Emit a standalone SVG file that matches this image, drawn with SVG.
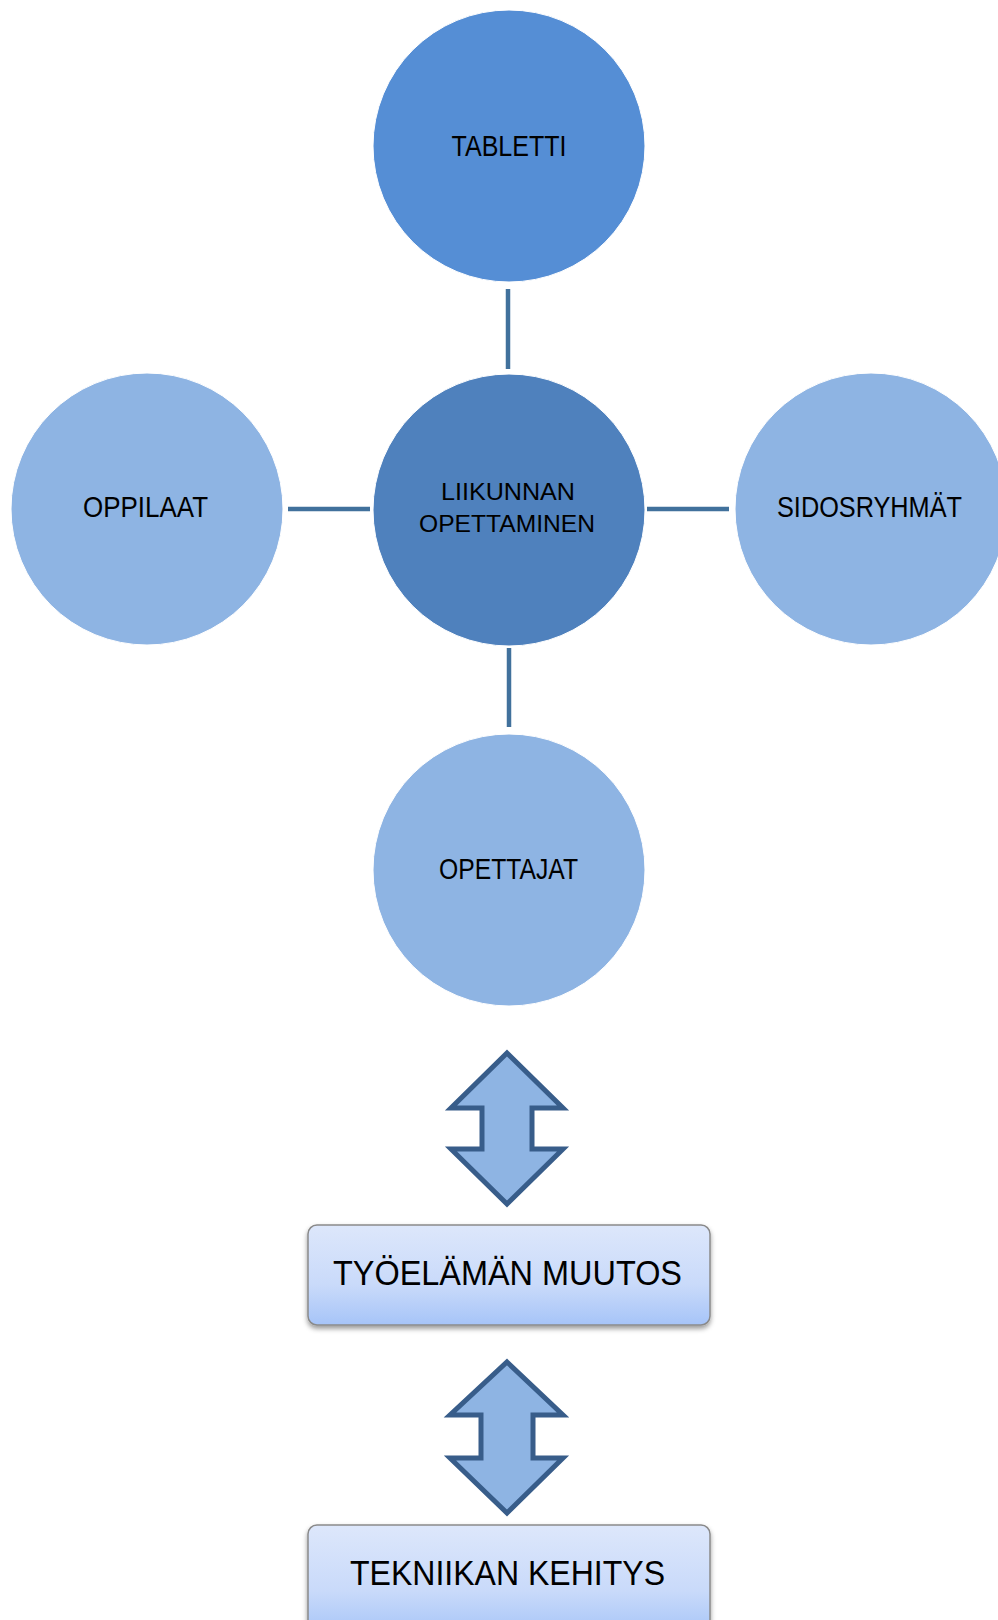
<svg xmlns="http://www.w3.org/2000/svg" width="998" height="1620" viewBox="0 0 998 1620">
<style>
.t{font-family:"Liberation Sans",Arial,sans-serif;fill:#000;text-anchor:middle}
.c{font-size:29px}
.m{font-size:24px}
.b{font-size:35px}
.con{stroke:#41719C;stroke-width:4.5;fill:none}
.arr{fill:#8EB4E3;stroke:#385D8A;stroke-width:5;stroke-linejoin:miter}
.box{fill:url(#g);stroke:#8a8a8a;stroke-width:1.5;filter:url(#sh)}
</style>
<defs>
<linearGradient id="g" x1="0" y1="0" x2="0" y2="1">
<stop offset="0" stop-color="#DDE7FB"/>
<stop offset="0.6" stop-color="#C9DAFA"/>
<stop offset="1" stop-color="#A6C4F8"/>
</linearGradient>
<filter id="sh" x="-10%" y="-20%" width="120%" height="150%">
<feDropShadow dx="0" dy="3" stdDeviation="2.5" flood-color="#000" flood-opacity="0.4"/>
</filter>
</defs>
<g id="connectors">
<line class="con" x1="508" y1="289" x2="508" y2="369"/>
<line class="con" x1="288" y1="509" x2="370" y2="509"/>
<line class="con" x1="647" y1="509" x2="729" y2="509"/>
<line class="con" x1="509" y1="648" x2="509" y2="727"/>
</g>
<g id="tabletti">
<circle cx="509" cy="146" r="136" fill="#558ED5" stroke="#fff" stroke-width="1"/>
<text class="t c" x="509" y="156" textLength="115" lengthAdjust="spacingAndGlyphs">TABLETTI</text>
</g>
<g id="liikunnan">
<circle cx="509" cy="510" r="136" fill="#4F81BD" stroke="#fff" stroke-width="1"/>
<text class="t m" x="508" y="500" textLength="134" lengthAdjust="spacingAndGlyphs">LIIKUNNAN</text>
<text class="t m" x="507" y="532" textLength="176" lengthAdjust="spacingAndGlyphs">OPETTAMINEN</text>
</g>
<g id="oppilaat">
<circle cx="147" cy="509" r="136" fill="#8EB4E3" stroke="#fff" stroke-width="1"/>
<text class="t c" x="145.5" y="517" textLength="125" lengthAdjust="spacingAndGlyphs">OPPILAAT</text>
</g>
<g id="sidosryhmat">
<circle cx="871" cy="509" r="136" fill="#8EB4E3" stroke="#fff" stroke-width="1"/>
<text class="t c" x="869.5" y="517" textLength="185" lengthAdjust="spacingAndGlyphs">SIDOSRYHMÄT</text>
</g>
<g id="opettajat">
<circle cx="509" cy="870" r="136" fill="#8EB4E3" stroke="#fff" stroke-width="1"/>
<text class="t c" x="508.5" y="879" textLength="139" lengthAdjust="spacingAndGlyphs">OPETTAJAT</text>
</g>
<g id="arrow1">
<polygon class="arr" points="507,1053 563,1108 532,1108 532,1149 563,1149 507,1204 451,1149 482,1149 482,1108 451,1108"/>
</g>
<g id="tyoelaman">
<rect class="box" x="308" y="1225" width="402" height="100" rx="9"/>
<text class="t b" x="507.5" y="1285" textLength="349" lengthAdjust="spacingAndGlyphs">TYÖELÄMÄN MUUTOS</text>
</g>
<g id="arrow2">
<polygon class="arr" points="507,1362 563,1415 533,1415 533,1458 563,1458 507,1513 450,1458 481,1458 481,1415 450,1415"/>
</g>
<g id="tekniikan">
<rect class="box" x="308" y="1525" width="402" height="110" rx="9"/>
<text class="t b" x="507.5" y="1585" textLength="315" lengthAdjust="spacingAndGlyphs">TEKNIIKAN KEHITYS</text>
</g>
</svg>
